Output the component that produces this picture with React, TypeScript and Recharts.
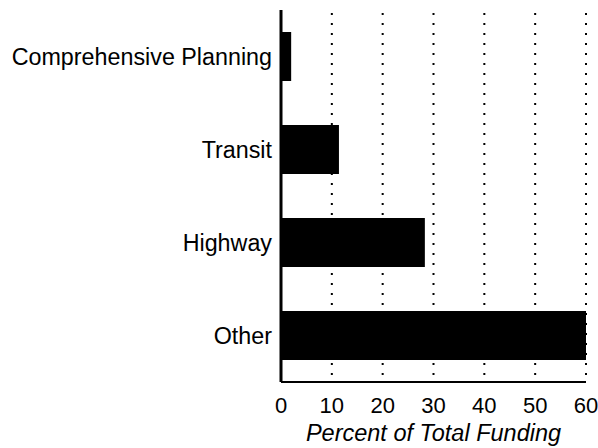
import { BarChart, Bar, XAxis, YAxis, CartesianGrid } from 'recharts';

const categories = ['Comprehensive Planning', 'Transit', 'Highway', 'Other'];
const percentValues = [2.0, 11.4, 28.3, 60];
const xTicks = [0, 10, 20, 30, 40, 50, 60];

const chartData = categories.map((name, i) => ({
  name,
  value: percentValues[i],
}));

const font = '"Liberation Sans", Arial, sans-serif';

export default function App() {
  return (
    <div style={{ position: 'absolute', left: 0, top: 0, width: 598, height: 448, background: '#fff' }}>
      <BarChart
        width={598}
        height={448}
        data={chartData}
        layout="vertical"
        margin={{ top: 10, right: 12, bottom: 36, left: 0 }}
        barSize={49}
      >
        <CartesianGrid
          horizontal={false}
          stroke="#000"
          strokeWidth={2}
          strokeDasharray="2 8"
          strokeDashoffset={-3}
        />
        <XAxis
          type="number"
          domain={[0, 60]}
          ticks={xTicks}
          interval={0}
          height={30}
          axisLine={{ stroke: '#000', strokeWidth: 2 }}
          tickLine={false}
          tickMargin={9}
          tick={{ fill: '#000', fontSize: 22, fontFamily: font }}
          label={{
            value: 'Percent of Total Funding',
            position: 'bottom',
            offset: 12,
            fill: '#000',
            fontSize: 23.5,
            fontStyle: 'italic',
            fontFamily: font,
          }}
        />
        <YAxis
          type="category"
          dataKey="name"
          width={281}
          axisLine={{ stroke: '#000', strokeWidth: 3 }}
          tickLine={false}
          tickMargin={3}
          tick={{ fill: '#000', fontSize: 23.3, fontFamily: font }}
        />
        <Bar dataKey="value" fill="#000" isAnimationActive={false} />
      </BarChart>
    </div>
  );
}
